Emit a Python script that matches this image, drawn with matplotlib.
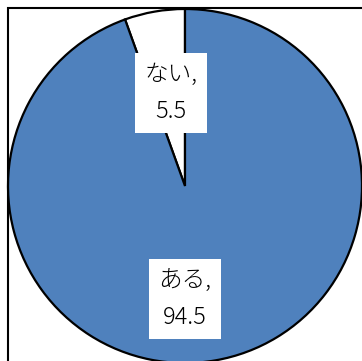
import matplotlib

matplotlib.use("Agg")
import matplotlib.pyplot as plt
from matplotlib.patches import Rectangle

plt.rcParams["font.family"] = ["Noto Sans CJK JP", "DejaVu Sans"]

labels = ["ない", "ある"]
values = [5.5, 94.5]
colors = ["#ffffff", "#4f81bd"]

W, H = 362, 361
CX, CY, R = 185, H - 186, 177

fig = plt.figure(figsize=(W / 100, H / 100), dpi=100)
ax = fig.add_axes([0, 0, 1, 1])
ax.pie(
    values,
    colors=colors,
    startangle=90,
    counterclock=True,
    center=(CX, CY),
    radius=R,
    wedgeprops=dict(edgecolor="black", linewidth=1.6),
)
ax.set_aspect("auto")
ax.set_xlim(0, W)
ax.set_ylim(0, H)
ax.axis("off")

# data labels, offsets from the pie centre in pixels
label_pos = [(-14, 93), (0, -113)]
for name, val, (dx, dy) in zip(labels, values, label_pos):
    ax.text(
        CX + dx,
        CY + dy,
        f"{name},\n{val}",
        ha="center",
        va="center",
        fontsize=17,
        fontweight="light",
        linespacing=1.6,
        bbox=dict(boxstyle="square,pad=0.4", facecolor="white", edgecolor="none"),
    )

# chart frame, clipped at the right and bottom like the original export
fig.patches.append(
    Rectangle((8 / W, -0.05), 1.2, (H - 8) / H + 0.05, transform=fig.transFigure,
              fill=False, edgecolor="black", linewidth=1.5, zorder=5)
)

fig.savefig("out.png", dpi=100)
